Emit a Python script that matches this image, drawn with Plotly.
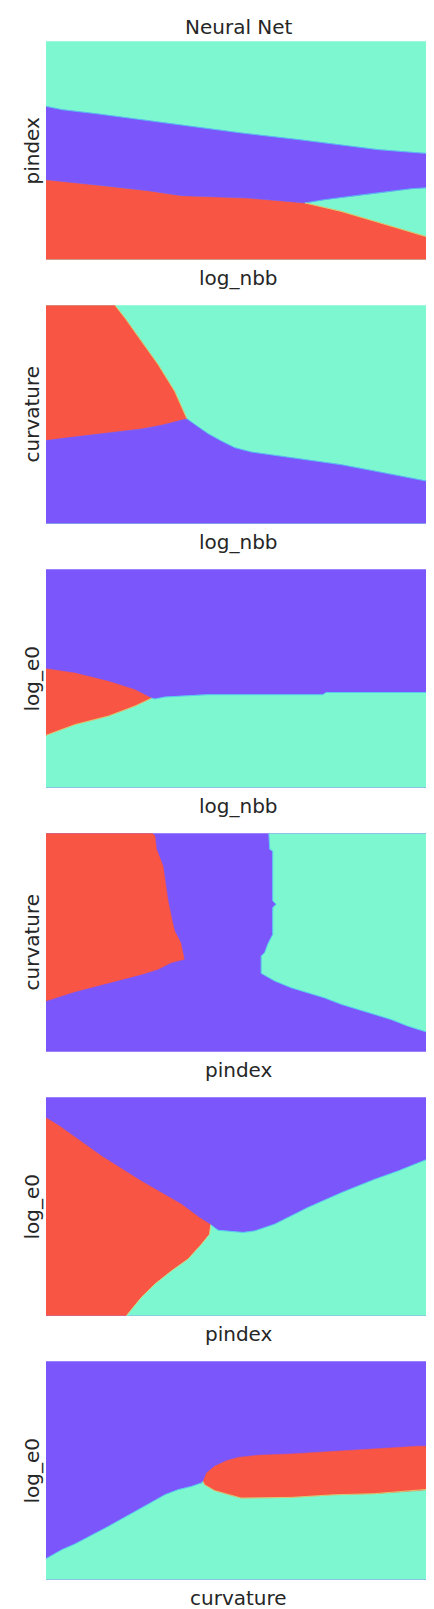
import plotly.graph_objects as go

# colours of the three classes
TEAL = "#7DF7CF"
PURPLE = "#7B57FB"
RED = "#F95545"
TEXT = "#262626"
# thin fringe colours seen along the class boundaries
EDGE_PT = "#52C6F6"
EDGE_RT = "#D9DE73"

TITLE = "Neural Net"
X_LABELS = ["log_nbb", "log_nbb", "log_nbb", "pindex", "pindex", "curvature"]
Y_LABELS = ["pindex", "curvature", "log_e0", "curvature", "log_e0", "log_e0"]
BACKGROUND = [TEAL, TEAL, PURPLE, PURPLE, PURPLE, PURPLE]

# boundaries, axis range is 0..100 on both axes
# panel 1: log_nbb vs pindex
p1_purple_top = [(0, 70.2), (4.1, 68.7), (13.6, 66.7), (24.8, 64.1), (36.9, 61.1), (50.7, 58.0),
                 (65.4, 55.0), (76.7, 52.4), (86.2, 50.4), (93.9, 49.3), (100, 48.5)]
p1_red_top = [(0, 36.6), (5.8, 35.6), (16.2, 33.6), (26.5, 31.6), (35.2, 29.3), (52.5, 28.2),
              (62.8, 26.7), (67.2, 26.0)]
p1_red_teal = [(67.2, 26.0), (76.7, 22.1), (85.3, 17.6), (94.0, 13.0), (100, 9.9)]
p1_purple_bottom = [(67.2, 26.0), (72.3, 27.5), (81.0, 29.5), (89.6, 31.3), (94.8, 32.5), (100, 33.1)]

# panel 2: log_nbb vs curvature
p2_red_teal = [(17.9, 100), (20.5, 94.2), (24.8, 83.5), (29.1, 72.9), (33.4, 60.7), (36.6, 48.0)]
p2_red_purple = [(0, 38.1), (5.4, 39.3), (10.5, 40.4), (15.3, 41.2), (20.1, 42.4), (24.8, 43.4),
                 (30.0, 45.1), (33.4, 46.5), (36.6, 48.0)]
p2_purple_teal = [(36.6, 48.0), (39.2, 44.7), (42.1, 41.2), (45.6, 37.8), (49.0, 34.8), (53.3, 32.8),
                  (61.1, 30.8), (68.0, 29.0), (76.7, 27.0), (85.3, 24.1), (94.0, 21.0), (100, 19.1)]

# panel 3: log_nbb vs log_e0
p3_red_top = [(0, 54.5), (7.5, 52.5), (16.2, 48.7), (23.1, 44.9), (27.4, 41.0)]
p3_red_bottom = [(0, 24.0), (7.5, 28.9), (16.2, 32.8), (23.1, 37.4), (27.4, 41.0)]
p3_purple_teal = [(27.4, 41.0), (28.3, 40.6), (30.9, 41.5), (42.1, 42.6), (71.9, 42.6),
                  (72.8, 43.6), (100, 43.6)]

# panel 4: pindex vs curvature
p4_red_right = [(27.6, 100), (28.3, 98.8), (28.7, 92.7), (30.4, 85.0), (30.9, 78.9), (31.7, 69.0),
                (32.8, 59.8), (33.4, 55.3), (35.0, 49.9), (35.9, 42.3)]
p4_red_bottom = [(35.9, 42.3), (32.6, 40.8), (29.1, 37.7), (24.8, 35.4), (19.6, 33.1), (13.6, 30.1),
                 (7.5, 27.5), (3.2, 25.0), (0, 23.2)]
p4_teal_left = [(57.9, 100), (58.1, 92.7), (58.9, 91.9), (58.9, 69.0), (59.8, 67.5), (58.9, 66.0),
                (58.9, 53.7), (57.6, 49.2), (56.8, 45.3), (55.9, 43.8), (55.9, 35.9)]
p4_teal_bottom = [(55.9, 35.9), (59.4, 32.4), (63.7, 29.3), (68.0, 27.0), (72.3, 24.7), (76.7, 21.7),
                  (81.0, 19.4), (85.3, 17.1), (89.6, 14.8), (93.9, 11.8), (97.8, 9.5), (100, 8.4)]

# panel 5: pindex vs log_e0
p5_red_purple = [(0, 90.6), (3.2, 87.2), (8.4, 80.7), (14.4, 73.1), (24.8, 61.6), (35.2, 51.0),
                 (39.9, 44.9), (42.8, 41.6)]
p5_red_teal = [(42.8, 41.6), (42.5, 37.3), (40.4, 32.7), (36.9, 25.9), (32.6, 20.5), (28.3, 14.5),
               (24.8, 8.4), (20.9, 0)]
p5_purple_teal = [(42.8, 41.6), (44.7, 39.1), (51.2, 38.1), (54.2, 38.8), (59.4, 41.9), (68.0, 49.5),
                  (76.7, 56.3), (85.3, 62.4), (91.4, 66.2), (95.7, 69.3), (100, 72.3)]

# panel 6: curvature vs log_e0
p6_purple_teal = [(0, 9.6), (4.1, 13.7), (7.5, 16.3), (16.2, 24.4), (24.8, 32.8), (30.9, 38.9),
                  (34.3, 41.2), (37.8, 42.7), (40.4, 44.3), (40.8, 45.0)]
p6_red_top = [(40.8, 45.0), (41.7, 48.9), (43.8, 51.9), (46.9, 54.5), (49.9, 56.0), (55.1, 57.0),
              (63.7, 57.6), (74.9, 58.8), (85.3, 60.0), (96.5, 61.1), (100, 61.1)]
p6_red_bottom = [(40.8, 45.0), (41.2, 43.5), (43.8, 40.8), (47.3, 38.9), (50.7, 37.4), (63.7, 37.7),
                 (74.9, 38.9), (85.3, 39.4), (97.4, 40.9), (100, 41.5)]


def poly(*parts):
    pts = []
    for p in parts:
        pts += list(p)
    return pts


# corner points of the 0..100 axis box
BL, BR, TL, TR = (0, 0), (100, 0), (0, 100), (100, 100)

regions = [
    [(RED, poly([BL], p1_red_top, p1_red_teal, [BR])),
     (PURPLE, poly(p1_purple_top, p1_purple_bottom[::-1], p1_red_top[::-1]))],
    [(RED, poly([TL], p2_red_teal, p2_red_purple[::-1])),
     (PURPLE, poly([BL], p2_red_purple, p2_purple_teal, [BR]))],
    [(TEAL, poly([BL], p3_red_bottom, p3_purple_teal, [BR])),
     (RED, poly(p3_red_top, p3_red_bottom[::-1]))],
    [(RED, poly([TL], p4_red_right, p4_red_bottom)),
     (TEAL, poly(p4_teal_left, p4_teal_bottom, [TR]))],
    [(RED, poly(p5_red_purple, p5_red_teal, [BL])),
     (TEAL, poly(p5_purple_teal, [BR], p5_red_teal[::-1]))],
    [(TEAL, poly([BL], p6_purple_teal, p6_red_bottom, [BR])),
     (RED, poly(p6_red_top, p6_red_bottom[::-1]))],
]

edges = [
    [(EDGE_PT, p1_purple_top), (EDGE_PT, p1_purple_bottom), (EDGE_RT, p1_red_teal)],
    [(EDGE_RT, p2_red_teal), (EDGE_PT, p2_purple_teal)],
    [(EDGE_RT, p3_red_bottom), (EDGE_PT, p3_purple_teal)],
    [(EDGE_PT, p4_teal_left), (EDGE_PT, p4_teal_bottom)],
    [(EDGE_RT, p5_red_teal), (EDGE_PT, p5_purple_teal)],
    [(EDGE_PT, p6_purple_teal), (EDGE_RT, p6_red_bottom)],
]

W, H = 434, 1609
M_L, M_R, M_T, M_B = 38, 11, 33, 37
PLOT_H = H - M_T - M_B
PANEL_TOP0, PANEL_STEP, PANEL_H = 33.3, 264, 218.4


def py(px):
    # pixel row -> paper y
    return (H - M_B - px) / PLOT_H


fig = go.Figure()
annotations = []
shapes = []
for i, panel in enumerate(regions):
    n = "" if i == 0 else str(i + 1)
    top = PANEL_TOP0 + PANEL_STEP * i
    bottom = top + PANEL_H
    ax = dict(range=[0, 100], showgrid=False, zeroline=False, showticklabels=False,
              ticks="", showline=False, fixedrange=True)
    fig.layout["xaxis" + n] = dict(ax, domain=[0, 1], anchor="y" + n)
    fig.layout["yaxis" + n] = dict(ax, domain=[py(bottom), py(top)], anchor="x" + n)

    shapes.append(dict(type="rect", xref="x" + n + " domain", yref="y" + n + " domain",
                       x0=0, x1=1, y0=0, y1=1, fillcolor=BACKGROUND[i], line_width=0,
                       layer="below"))
    for color, pts in panel:
        fig.add_trace(go.Scatter(
            x=[p[0] for p in pts], y=[p[1] for p in pts],
            xaxis="x" + n, yaxis="y" + n,
            mode="lines", fill="toself", fillcolor=color,
            line=dict(color=color, width=0.5),
            hoverinfo="skip", showlegend=False,
        ))
    for color, pts in edges[i]:
        fig.add_trace(go.Scatter(
            x=[p[0] for p in pts], y=[p[1] for p in pts],
            xaxis="x" + n, yaxis="y" + n,
            mode="lines", line=dict(color=color, width=0.8),
            hoverinfo="skip", showlegend=False,
        ))

    annotations.append(dict(text=X_LABELS[i], xref="paper", yref="paper",
                            x=0.5, y=py(bottom + 18.5), xanchor="center", yanchor="middle",
                            showarrow=False, font=dict(size=20, color=TEXT)))
    annotations.append(dict(text=Y_LABELS[i], xref="paper", yref="paper",
                            x=(23 - M_L) / (W - M_L - M_R), y=py((top + bottom) / 2),
                            xanchor="center", yanchor="middle", textangle=-90,
                            showarrow=False, font=dict(size=20, color=TEXT)))

annotations.append(dict(text=TITLE, xref="paper", yref="paper", x=0.5, y=py(19),
                        xanchor="center", yanchor="middle", showarrow=False,
                        font=dict(size=20, color=TEXT)))

fig.update_layout(
    width=W, height=H,
    margin=dict(l=M_L, r=M_R, t=M_T, b=M_B),
    paper_bgcolor="white", plot_bgcolor="white",
    font=dict(family="DejaVu Sans", color=TEXT),
    annotations=annotations, shapes=shapes,
)

fig.write_html("out.html")
